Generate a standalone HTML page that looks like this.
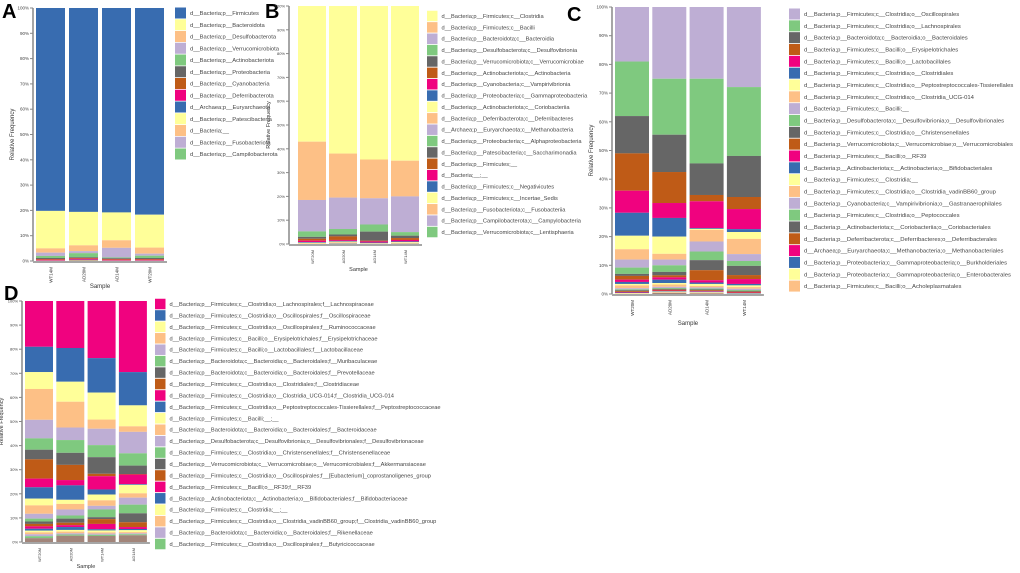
<!DOCTYPE html>
<html><head><meta charset="utf-8">
<style>
html,body{margin:0;padding:0;background:#fff;}
svg{display:block;font-family:"Liberation Sans",sans-serif;}
</style></head>
<body>
<svg id="fig" width="1020" height="573" viewBox="0 0 1020 573" xmlns="http://www.w3.org/2000/svg"></svg>
<script>
const palette = ["#386cb0","#ffff99","#fdc086","#beaed4","#7fc97f","#666666","#bf5b17","#f0027f"];
const yTicks = [0,10,20,30,40,50,60,70,80,90,100];

// Panel A
const aSamples = ["WT14M","AD20M","AD14M","WT20M"];
const aTaxa = ["d__Bacteria;p__Firmicutes","d__Bacteria;p__Bacteroidota","d__Bacteria;p__Desulfobacterota","d__Bacteria;p__Verrucomicrobiota","d__Bacteria;p__Actinobacteriota","d__Bacteria;p__Proteobacteria","d__Bacteria;p__Cyanobacteria","d__Bacteria;p__Deferribacterota","d__Archaea;p__Euryarchaeota","d__Bacteria;p__Patescibacteria","d__Bacteria;__","d__Bacteria;p__Fusobacteriota","d__Bacteria;p__Campilobacterota"];
const aValues = [
 [80.2,80.6,80.8,81.7],[14.8,13.2,11.0,13.0],[1.7,2.3,3.0,2.4],[1.3,0.8,3.8,0.8],[0.8,1.6,0.3,0.9],
 [0.4,0.3,0.3,0.4],[0.3,0.3,0.3,0.3],[0.3,0.4,0.3,0.3],[0.1,0.1,0.1,0.1],[0.1,0.1,0.1,0.1],[0.05,0.05,0.05,0.05],[0.02,0.02,0.02,0.02],[0.02,0.02,0.02,0.02]];

// Panel B
const bSamples = ["WT20M","AD20M","AD14M","WT14M"];
const bTaxa = ["d__Bacteria;p__Firmicutes;c__Clostridia","d__Bacteria;p__Firmicutes;c__Bacilli","d__Bacteria;p__Bacteroidota;c__Bacteroidia","d__Bacteria;p__Desulfobacterota;c__Desulfovibrionia","d__Bacteria;p__Verrucomicrobiota;c__Verrucomicrobiae","d__Bacteria;p__Actinobacteriota;c__Actinobacteria","d__Bacteria;p__Cyanobacteria;c__Vampirivibrionia","d__Bacteria;p__Proteobacteria;c__Gammaproteobacteria","d__Bacteria;p__Actinobacteriota;c__Coriobacteriia","d__Bacteria;p__Deferribacterota;c__Deferribacteres","d__Archaea;p__Euryarchaeota;c__Methanobacteria","d__Bacteria;p__Proteobacteria;c__Alphaproteobacteria","d__Bacteria;p__Patescibacteria;c__Saccharimonadia","d__Bacteria;p__Firmicutes;__","d__Bacteria;__;__","d__Bacteria;p__Firmicutes;c__Negativicutes","d__Bacteria;p__Firmicutes;c__Incertae_Sedis","d__Bacteria;p__Fusobacteriota;c__Fusobacteriia","d__Bacteria;p__Campilobacterota;c__Campylobacteria","d__Bacteria;p__Verrucomicrobiota;c__Lentisphaeria"];
const bValues = [
 [57,62,64.5,65],[24.5,18.5,16.3,15],[13.2,13.2,11,15],[2.3,2.3,3,1.5],[0.8,0.8,3.8,1.0],
 [0.8,1.5,0.3,0.8],[0.6,0.4,0.5,0.6],[0.3,0.3,0.3,0.3],[0.3,0.3,0.2,0.3],[0.3,0.4,0.3,0.3],
 [0.1,0.1,0.1,0.1],[0.1,0.1,0.1,0.1],[0.1,0.1,0.1,0.1],[0.1,0.1,0.1,0.1],[0.1,0.1,0.1,0.1],
 [0.1,0.1,0.1,0.1],[0.05,0.05,0.05,0.05],[0.05,0.05,0.05,0.05],[0.05,0.05,0.05,0.05],[0.05,0.05,0.05,0.05]];

// Panel C
const cSamples = ["WT20M","AD20M","AD14M","WT14M"];
const cTaxa = ["d__Bacteria;p__Firmicutes;c__Clostridia;o__Oscillospirales","d__Bacteria;p__Firmicutes;c__Clostridia;o__Lachnospirales","d__Bacteria;p__Bacteroidota;c__Bacteroidia;o__Bacteroidales","d__Bacteria;p__Firmicutes;c__Bacilli;o__Erysipelotrichales","d__Bacteria;p__Firmicutes;c__Bacilli;o__Lactobacillales","d__Bacteria;p__Firmicutes;c__Clostridia;o__Clostridiales","d__Bacteria;p__Firmicutes;c__Clostridia;o__Peptostreptococcales-Tissierellales","d__Bacteria;p__Firmicutes;c__Clostridia;o__Clostridia_UCG-014","d__Bacteria;p__Firmicutes;c__Bacilli;__","d__Bacteria;p__Desulfobacterota;c__Desulfovibrionia;o__Desulfovibrionales","d__Bacteria;p__Firmicutes;c__Clostridia;o__Christensenellales","d__Bacteria;p__Verrucomicrobiota;c__Verrucomicrobiae;o__Verrucomicrobiales","d__Bacteria;p__Firmicutes;c__Bacilli;o__RF39","d__Bacteria;p__Actinobacteriota;c__Actinobacteria;o__Bifidobacteriales","d__Bacteria;p__Firmicutes;c__Clostridia;__","d__Bacteria;p__Firmicutes;c__Clostridia;o__Clostridia_vadinBB60_group","d__Bacteria;p__Cyanobacteria;c__Vampirivibrionia;o__Gastranaerophilales","d__Bacteria;p__Firmicutes;c__Clostridia;o__Peptococcales","d__Bacteria;p__Actinobacteriota;c__Coriobacteriia;o__Coriobacteriales","d__Bacteria;p__Deferribacterota;c__Deferribacteres;o__Deferribacterales","d__Archaea;p__Euryarchaeota;c__Methanobacteria;o__Methanobacteriales","d__Bacteria;p__Proteobacteria;c__Gammaproteobacteria;o__Burkholderiales","d__Bacteria;p__Proteobacteria;c__Gammaproteobacteria;o__Enterobacterales","d__Bacteria;p__Firmicutes;c__Bacilli;o__Acholeplasmatales"];
const cValues = [
 [19,25,25,27.9],[19,19.5,29.5,24],[13,13,11,14.3],[13,10.8,2.2,4.2],[7.7,5.2,9.3,7],
 [8,6.5,0.3,1],[4.7,6,0.4,2.4],[3.6,2,4,5.3],[2.8,2,3.5,2.4],[2.2,2.3,3,1.7],
 [0.7,1.2,3.5,3.2],[1.3,0.7,3.5,1.4],[0.8,0.8,0.8,1.7],[0.7,1.2,0.5,0.5],[0.5,0.5,0.7,0.6],
 [1,0.8,0.5,0.6],[0.4,0.4,0.4,0.4],[0.3,0.3,0.3,0.3],[0.3,0.3,0.3,0.3],[0.3,0.3,0.3,0.3],
 [0.2,0.2,0.2,0.2],[0.2,0.2,0.2,0.2],[0.2,0.2,0.2,0.2],[0.2,0.2,0.2,0.2]];

// Panel D
const dSamples = ["WT20M","AD20M","WT14M","AD14M"];
const dTaxa = ["d__Bacteria;p__Firmicutes;c__Clostridia;o__Lachnospirales;f__Lachnospiraceae","d__Bacteria;p__Firmicutes;c__Clostridia;o__Oscillospirales;f__Oscillospiraceae","d__Bacteria;p__Firmicutes;c__Clostridia;o__Oscillospirales;f__Ruminococcaceae","d__Bacteria;p__Firmicutes;c__Bacilli;o__Erysipelotrichales;f__Erysipelotrichaceae","d__Bacteria;p__Firmicutes;c__Bacilli;o__Lactobacillales;f__Lactobacillaceae","d__Bacteria;p__Bacteroidota;c__Bacteroidia;o__Bacteroidales;f__Muribaculaceae","d__Bacteria;p__Bacteroidota;c__Bacteroidia;o__Bacteroidales;f__Prevotellaceae","d__Bacteria;p__Firmicutes;c__Clostridia;o__Clostridiales;f__Clostridiaceae","d__Bacteria;p__Firmicutes;c__Clostridia;o__Clostridia_UCG-014;f__Clostridia_UCG-014","d__Bacteria;p__Firmicutes;c__Clostridia;o__Peptostreptococcales-Tissierellales;f__Peptostreptococcaceae","d__Bacteria;p__Firmicutes;c__Bacilli;__;__","d__Bacteria;p__Bacteroidota;c__Bacteroidia;o__Bacteroidales;f__Bacteroidaceae","d__Bacteria;p__Desulfobacterota;c__Desulfovibrionia;o__Desulfovibrionales;f__Desulfovibrionaceae","d__Bacteria;p__Firmicutes;c__Clostridia;o__Christensenellales;f__Christensenellaceae","d__Bacteria;p__Verrucomicrobiota;c__Verrucomicrobiae;o__Verrucomicrobiales;f__Akkermansiaceae","d__Bacteria;p__Firmicutes;c__Clostridia;o__Oscillospirales;f__[Eubacterium]_coprostanoligenes_group","d__Bacteria;p__Firmicutes;c__Bacilli;o__RF39;f__RF39","d__Bacteria;p__Actinobacteriota;c__Actinobacteria;o__Bifidobacteriales;f__Bifidobacteriaceae","d__Bacteria;p__Firmicutes;c__Clostridia;__;__","d__Bacteria;p__Firmicutes;c__Clostridia;o__Clostridia_vadinBB60_group;f__Clostridia_vadinBB60_group","d__Bacteria;p__Bacteroidota;c__Bacteroidia;o__Bacteroidales;f__Rikenellaceae","d__Bacteria;p__Firmicutes;c__Clostridia;o__Oscillospirales;f__Butyricicoccaceae"];
const dValues = [
 [19,19.5,23.7,29.5],[10.5,14,14.3,13.8],[7,8.3,11.2,8.7],[12.8,10.7,3.8,2.3],[7.7,5.2,6.8,8.9],
 [4.7,5.3,5,5.1],[4,5,6.9,3.5],[8,6.3,1,0.2],[3.6,2.2,5.5,4],[4.7,6,2.1,0.3],
 [2.8,1.7,2.4,3.5],[3.5,2.3,2.3,1.8],[2,2.5,1.5,2.9],[1.2,1.3,3.2,3.6],[1,1.7,0.8,3.7],
 [1,1,2,2],[1,0.8,2.2,0.8],[0.8,1.2,0.5,0.5],[0.7,0.7,0.8,0.8],[0.8,0.7,0.5,0.5],
 [0.8,0.5,0.5,0.4],[0.8,0.5,0.5,0.4]];

const svg = document.getElementById('fig');
const NS = "http://www.w3.org/2000/svg";
function mk(tag, attrs, parent){
  const e = document.createElementNS(NS, tag);
  for (const k in attrs) e.setAttribute(k, attrs[k]);
  (parent||svg).appendChild(e);
  return e;
}

function drawPanel(p){
  const g = mk('g', {});
  
  
  const yScale = v => p.y0 - (v/100)*(p.y0 - p.y100);
  const xBar = i => p.bx0 + i*p.step;

  const lab = mk('text', {x:p.lx, y:p.ly, 'font-size':20, 'font-weight':'bold', fill:'#000'}, g);
  lab.textContent = p.id;
  
  

  p.samples.forEach((s, si) => {
    let top = 100;
    p.values.forEach((row, ti) => {
      const v = row[si];
      const bottom = Math.max(0, top - v);
      const r = mk('rect', {x:xBar(si), y:yScale(top), width:p.bw, height:Math.max(0, yScale(bottom)-yScale(top)), fill:palette[(ti+p.off)%8]}, g);
      
      
      top = bottom;
    });
    if (top > 0) {
      const r = mk('rect', {x:xBar(si), y:yScale(top), width:p.bw, height:yScale(0)-yScale(top), fill:'#a2857a'}, g);
      
      
    }
    const t = mk('text', {x:0, y:0, 'font-size':p.tfs, fill:'#333', 'text-anchor':'end', transform:`translate(${xBar(si)+p.bw/2+2},${p.y0+6}) rotate(-90)`}, g);
    t.textContent = s;
    
    
  });

  const ax = mk('line', {x1:p.ax, x2:p.ax, y1:p.y100, y2:p.y0, stroke:'#888', 'stroke-width':1.5}, g);
  
  
  const bx = mk('line', {x1:p.ax, x2:xBar(3)+p.bw+3, y1:p.y0+1, y2:p.y0+1, stroke:'#888', 'stroke-width':1.5}, g);
  
  
  yTicks.forEach(v => {
    mk('line', {x1:p.ax-3, x2:p.ax, y1:yScale(v), y2:yScale(v), stroke:'#888', 'stroke-width':1}, g);
    const t = mk('text', {x:p.ax-4, y:yScale(v)+1.5, 'font-size':p.tfs, fill:'#444', 'text-anchor':'end'}, g);
    t.textContent = v + '%';
    
    
  });
  const yt = mk('text', {x:0, y:0, 'font-size':p.tfs+1.5, fill:'#333', 'text-anchor':'middle', transform:`translate(${p.ax-19},${(p.y0+p.y100)/2}) rotate(-90)`}, g);
  yt.textContent = 'Relative Frequency';
  
  
  const xt = mk('text', {x:(xBar(0)+xBar(3)+p.bw)/2, y:p.sy, 'font-size':p.tfs+1.5, fill:'#333', 'text-anchor':'middle'}, g);
  xt.textContent = 'Sample';
  
  

  p.taxa.forEach((name, i) => {
    const cy = p.ly0 + i*p.lstep;
    const sw = mk('rect', {x:p.lsx, y:cy-p.ssz/2, width:p.ssz, height:p.ssz, fill:palette[(i+p.off)%8]}, g);
    
    
    const t = mk('text', {x:p.lsx+p.ssz+4, y:cy+2, 'font-size':p.lfs, fill:'#444'}, g);
    t.textContent = name;
    
    
  });
}

drawPanel({id:'A', samples:aSamples, taxa:aTaxa, values:aValues, off:0,
  lx:2, ly:18, ax:33, y100:8, y0:261, bx0:36, step:33, bw:29, tfs:4.5,
  sy:288, lsx:175, ly0:13, lstep:11.75, ssz:11, lfs:5.8});
drawPanel({id:'B', samples:bSamples, taxa:bTaxa, values:bValues, off:1,
  lx:265, ly:18, ax:289, y100:6, y0:244, bx0:298, step:31, bw:28, tfs:4,
  sy:271, lsx:427, ly0:16, lstep:11.37, ssz:10.5, lfs:5.7});
drawPanel({id:'C', samples:cSamples, taxa:cTaxa, values:cValues, off:3,
  lx:567, ly:21, ax:612, y100:7, y0:294, bx0:615, step:37.3, bw:34, tfs:4.5,
  sy:325, lsx:789, ly0:14, lstep:11.83, ssz:11, lfs:5.9});
drawPanel({id:'D', samples:dSamples, taxa:dTaxa, values:dValues, off:7,
  lx:4, ly:300, ax:22, y100:301, y0:542, bx0:25, step:31.3, bw:28, tfs:4,
  sy:568, lsx:155, ly0:304, lstep:11.43, ssz:10.5, lfs:5.7});
</script>
</body></html>
